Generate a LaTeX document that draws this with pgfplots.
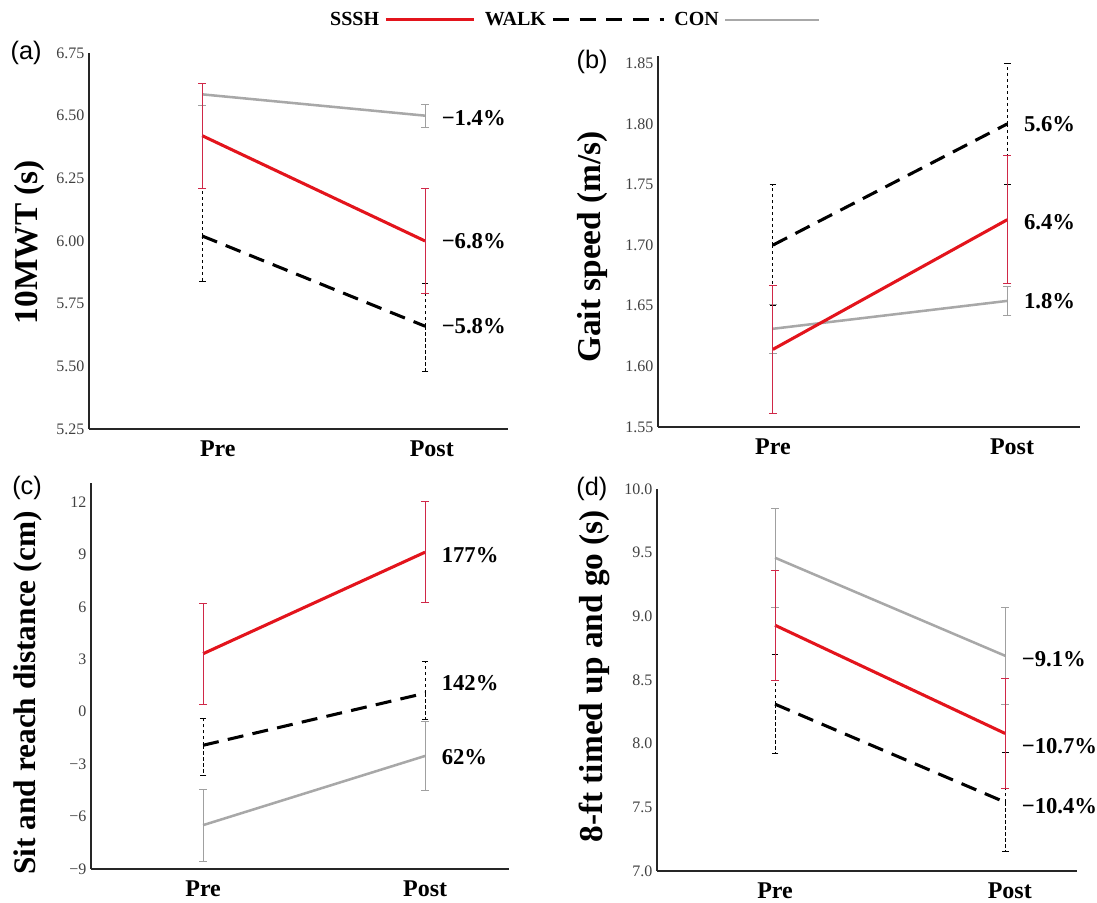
\documentclass[border=0pt]{standalone}
\usepackage{fontspec}
\setmainfont{Liberation Serif}
\newfontfamily\panelfont{Liberation Sans}
\usepackage{pgfplots}
\pgfplotsset{compat=1.18}

\definecolor{ssshred}{HTML}{E3141C}
\definecolor{ssshbar}{HTML}{D02848}
\definecolor{congray}{HTML}{A8A8A8}
\definecolor{conbar}{HTML}{A0A0A0}

\pgfplotsset{
  panel/.style={
    scale only axis, anchor=south west, clip=false,
    axis lines*=left, axis line style={-, line width=1pt, black!85},
    major tick length=0pt,
    xtick={0,1}, xticklabels={Pre,Post},
    xticklabel style={font=\bfseries\fontsize{18}{18}\selectfont, yshift=-5pt},
    yticklabel style={font=\fontsize{12}{12}\selectfont, text=black!75},
    ylabel style={font=\bfseries\fontsize{25}{25}\selectfont},
  },
  ssshline/.style={ssshred, line width=2.3pt, mark=none,
    error bars/.cd, y dir=both, y explicit,
    error bar style={ssshbar, line width=0.7pt, solid},
    error mark options={rotate=90, ssshbar, mark size=3pt, line width=0.7pt}},
  walkline/.style={black, line width=2.3pt, dash pattern=on 12pt off 7pt, mark=none,
    error bars/.cd, y dir=both, y explicit,
    error bar style={black, line width=0.6pt, dash pattern=on 2.5pt off 2pt},
    error mark options={rotate=90, black, mark size=2.5pt, line width=0.6pt, solid}},
  conline/.style={congray, line width=1.9pt, mark=none,
    error bars/.cd, y dir=both, y explicit,
    error bar style={conbar, line width=0.6pt, solid},
    error mark options={rotate=90, conbar, mark size=3pt, line width=0.6pt}},
}
\tikzset{
  pct/.style={anchor=west, xshift=9pt, font=\bfseries\fontsize{17}{17}\selectfont},
  tag/.style={font=\panelfont\fontsize{19}{19}\selectfont},
}

\begin{document}
\begin{tikzpicture}
\useasboundingbox (0,0) rectangle (822.75pt,677.25pt);

% (a) 10MWT
\begin{axis}[panel, at={(66.75pt,355.5pt)}, width=314.25pt, height=282pt,
  xmin=-0.508, xmax=1.372, ymin=5.25, ymax=6.75,
  xtick={0.07,1.03},
  ytick={5.25,5.5,5.75,6,6.25,6.5,6.75},
  yticklabels={5.25,5.50,5.75,6.00,6.25,6.50,6.75},
  ylabel={10MWT (s)},
  ylabel style={at={(axis description cs:-0.141,0.497)}, anchor=center},
  legend style={at={(1.157,1.088)}, anchor=center, draw=none, fill=none,
    legend columns=3, font=\bfseries\fontsize{15}{15}\selectfont,
    /tikz/every odd column/.append style={column sep=2pt},
    /tikz/every even column/.append style={column sep=5pt}},
  legend plot pos=right,
]
\addlegendimage{legend image code/.code={\draw[ssshred, line width=2.3pt] (0pt,0pt) -- (66pt,0pt);}}
\addlegendentry{SSSH}
\addlegendimage{legend image code/.code={\draw[black, line width=2.3pt, dash pattern=on 12pt off 8pt] (0pt,0pt) -- (83pt,0pt);}}
\addlegendentry{WALK}
\addlegendimage{legend image code/.code={\draw[congray, line width=1.9pt] (0pt,0pt) -- (70pt,0pt);}}
\addlegendentry{CON}
\addplot[forget plot, conline] coordinates {(0,6.585) +- (0,0.045) (1,6.50) +- (0,0.045)};
\addplot[forget plot, walkline] coordinates {(0,6.02) += (0,0.19) -= (0,0.18) (1,5.66) += (0,0.17) -= (0,0.18)};
\addplot[forget plot, ssshline] coordinates {(0,6.42) +- (0,0.21) (1,6.00) +- (0,0.21)};
\node[pct] at (axis cs:1,6.49) {−1.4\%};
\node[pct] at (axis cs:1,6.00) {−6.8\%};
\node[pct] at (axis cs:1,5.66) {−5.8\%};
\node[tag] at (rel axis cs:-0.150,1.0) {(a)};
\end{axis}

% (b) Gait speed
\begin{axis}[panel, at={(493.5pt,357pt)}, width=316.5pt, height=278.25pt,
  xmin=-0.49, xmax=1.31, ymin=1.55, ymax=1.856,
  xtick={0,1.02},
  ytick={1.55,1.6,1.65,1.7,1.75,1.8,1.85},
  yticklabels={1.55,1.60,1.65,1.70,1.75,1.80,1.85},
  ylabel={Gait speed (m/s)},
  ylabel style={at={(axis description cs:-0.156,0.485)}, anchor=center},
]
\addplot[conline] coordinates {(0,1.631) +- (0,0.02) (1,1.654) +- (0,0.012)};
\addplot[walkline] coordinates {(0,1.70) +- (0,0.05) (1,1.80) +- (0,0.05)};
\addplot[ssshline] coordinates {(0,1.614) +- (0,0.053) (1,1.721) +- (0,0.053)};
\node[pct] at (axis cs:1,1.80) {5.6\%};
\node[pct] at (axis cs:1,1.719) {6.4\%};
\node[pct] at (axis cs:1,1.654) {1.8\%};
\node[tag] at (rel axis cs:-0.156,0.984) {(b)};
\end{axis}

% (c) Sit and reach
\begin{axis}[panel, at={(68.25pt,25.5pt)}, width=313.5pt, height=289.5pt,
  xmin=-0.505, xmax=1.378, ymin=-9, ymax=13.09,
  ytick={-9,-6,-3,0,3,6,9,12},
  yticklabels={−9,−6,−3,0,3,6,9,12},
  ylabel={Sit and reach distance (cm)},
  ylabel style={at={(axis description cs:-0.151,0.456)}, anchor=center,
    font=\bfseries\fontsize{23.5}{23.5}\selectfont},
]
\addplot[conline] coordinates {(0,-6.49) +- (0,2.05) (1,-2.53) +- (0,2.0)};
\addplot[walkline] coordinates {(0,-1.92) += (0,1.56) -= (0,1.70) (1,1.06) += (0,1.83) -= (0,1.48)};
\addplot[ssshline] coordinates {(0,3.32) +- (0,2.9) (1,9.13) +- (0,2.9)};
\node[pct] at (axis cs:1,8.98) {177\%};
\node[pct] at (axis cs:1,1.66) {142\%};
\node[pct] at (axis cs:1,-2.62) {62\%};
\node[tag] at (rel axis cs:-0.153,0.987) {(c)};
\end{axis}

% (d) 8-ft timed up and go
\begin{axis}[panel, at={(492.75pt,24pt)}, width=315pt, height=286.5pt,
  xmin=-0.513, xmax=1.312, ymin=7, ymax=10,
  xtick={0,1.02},
  ytick={7,7.5,8,8.5,9,9.5,10},
  yticklabels={7.0,7.5,8.0,8.5,9.0,9.5,10.0},
  ylabel={8-ft timed up and go (s)},
  ylabel style={at={(axis description cs:-0.15,0.51)}, anchor=center},
]
\addplot[conline] coordinates {(0,9.46) +- (0,0.39) (1,8.69) +- (0,0.38)};
\addplot[walkline] coordinates {(0,8.31) +- (0,0.39) (1,7.54) +- (0,0.39)};
\addplot[ssshline] coordinates {(0,8.93) +- (0,0.43) (1,8.08) +- (0,0.43)};
\node[pct] at (axis cs:1,8.66) {−9.1\%};
\node[pct] at (axis cs:1,7.98) {−10.7\%};
\node[pct] at (axis cs:1,7.51) {−10.4\%};
\node[tag] at (rel axis cs:-0.155,1.0) {(d)};
\end{axis}
\end{tikzpicture}
\end{document}
